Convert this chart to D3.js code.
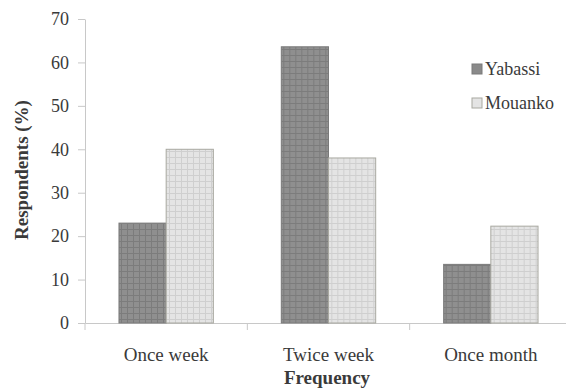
<!DOCTYPE html>
<html>
<head>
<meta charset="utf-8">
<script src="https://cdn.jsdelivr.net/npm/d3@7"></script>
<style>
  body { margin: 0; background: #fff; }
  svg text { font-family: 'Liberation Serif'; }
  .axis path, .axis line { stroke: #c8c8c8; }
</style>
</head>
<body>
<svg id="chart"></svg>
<script>
// Chart data
const categories = ["Once week", "Twice week", "Once month"];
const seriesNames = ["Yabassi", "Mouanko"];
const yabassi = [23, 63.6, 13.5];
const mouanko = [40, 38, 22.3];
const yTicks = [0, 10, 20, 30, 40, 50, 60, 70];

const serif = 'Liberation Serif';
const textColor = '#3a3a3a';

const width = 566, height = 389;
const margin = {top: 19, right: -6, bottom: 66, left: 85};
const innerW = width - margin.left - margin.right;
const innerH = height - margin.top - margin.bottom;

const svg = d3.select('#chart')
    .attr('width', width)
    .attr('height', height)
    .attr('font-family', serif);

// Grid patterns for the bars
const defs = svg.append('defs');
function gridPattern(id, bg, line) {
  const p = defs.append('pattern')
      .attr('id', id)
      .attr('width', 6)
      .attr('height', 6)
      .attr('patternUnits', 'userSpaceOnUse');
  p.append('rect').attr('width', 6).attr('height', 6).attr('fill', bg);
  p.append('path')
      .attr('d', 'M0,0.5H6M0.5,0V6')
      .attr('stroke', line)
      .attr('stroke-width', 1);
}
gridPattern('darkGrid', '#8f8f8f', '#7c7c7c');
gridPattern('lightGrid', '#e4e4e4', '#cfcfcf');
const fills = ['url(#darkGrid)', 'url(#lightGrid)'];
const strokes = ['#7a7a7a', '#a8a8a0'];

const chart = svg.append('g')
    .attr('transform', `translate(${margin.left},${margin.top})`);

const xScale = d3.scaleBand()
    .domain(categories)
    .range([0, innerW])
    .paddingInner(0)
    .paddingOuter(0);

const xSub = d3.scaleBand()
    .domain(seriesNames)
    .range([0, xScale.bandwidth()])
    .paddingOuter(0.72)
    .paddingInner(0);

const yScale = d3.scaleLinear()
    .domain([0, 70])
    .range([innerH, 0]);

// Axes
const yAxis = d3.axisLeft(yScale)
    .tickValues(yTicks)
    .tickSize(7)
    .tickSizeOuter(0)
    .tickPadding(9);

chart.append('g')
    .attr('class', 'axis y-axis')
    .call(yAxis)
    .attr('font-family', serif)
    .attr('font-size', 18)
    .call(g => g.selectAll('text').attr('fill', textColor));

const xAxis = d3.axisBottom(xScale)
    .tickSize(0)
    .tickPadding(25);

const xAxisG = chart.append('g')
    .attr('class', 'axis x-axis')
    .attr('transform', `translate(0,${innerH})`)
    .call(xAxis)
    .attr('font-family', serif)
    .attr('font-size', 19)
    .call(g => g.selectAll('text').attr('fill', textColor));

// boundary ticks between categories
xAxisG.selectAll('.bound')
    .data([0, 1, 2])
  .join('line')
    .attr('class', 'bound')
    .attr('x1', i => i * xScale.bandwidth())
    .attr('x2', i => i * xScale.bandwidth())
    .attr('y1', 0)
    .attr('y2', 7);

// Bars
const groups = chart.selectAll('.cat')
    .data(categories)
  .join('g')
    .attr('class', 'cat')
    .attr('transform', d => `translate(${xScale(d)},0)`);

groups.selectAll('rect')
    .data((d, i) => [yabassi[i], mouanko[i]].map((v, j) => ({key: seriesNames[j], value: v, j})))
  .join('rect')
    .attr('x', d => xSub(d.key))
    .attr('y', d => yScale(d.value))
    .attr('width', xSub.bandwidth())
    .attr('height', d => innerH - yScale(d.value))
    .attr('fill', d => fills[d.j])
    .attr('stroke', d => strokes[d.j])
    .attr('stroke-width', 1);

// Legend
const legend = svg.append('g')
    .attr('transform', 'translate(472,64)');

const items = legend.selectAll('g')
    .data(seriesNames)
  .join('g')
    .attr('transform', (d, i) => `translate(0,${i * 34})`);

items.append('rect')
    .attr('width', 10)
    .attr('height', 10)
    .attr('fill', (d, i) => i === 0 ? '#8a8a8a' : '#e4e4e4')
    .attr('stroke', (d, i) => strokes[i]);

items.append('text')
    .attr('x', 13)
    .attr('y', 11)
    .attr('font-size', 18)
    .attr('fill', textColor)
    .text(d => d);

// Axis titles
svg.append('text')
    .attr('transform', 'translate(28,170) rotate(-90)')
    .attr('text-anchor', 'middle')
    .attr('font-size', 19)
    .attr('font-weight', 'bold')
    .attr('fill', textColor)
    .text('Respondents (%)');

svg.append('text')
    .attr('x', 327)
    .attr('y', 384)
    .attr('text-anchor', 'middle')
    .attr('font-size', 19)
    .attr('font-weight', 'bold')
    .attr('fill', textColor)
    .text('Frequency');
</script>
</body>
</html>
